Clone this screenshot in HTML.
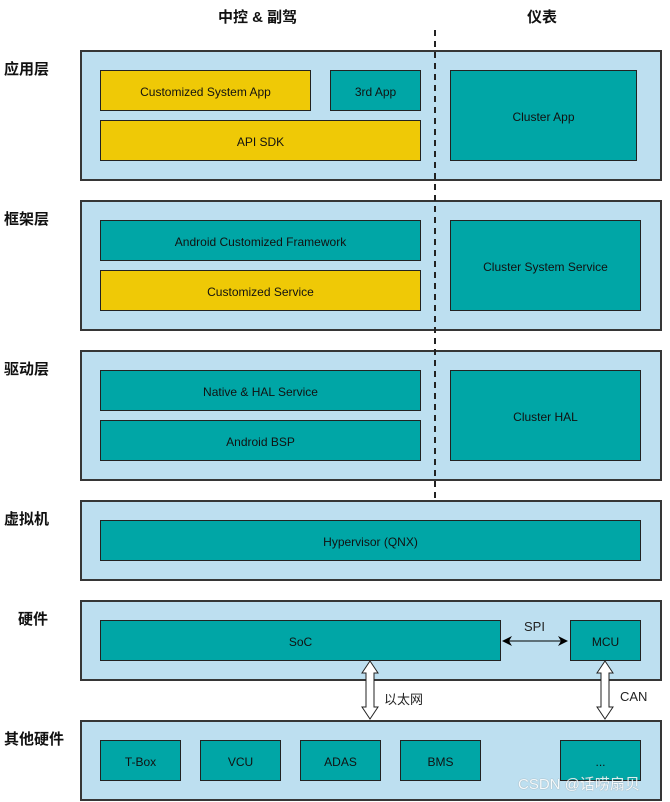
<!DOCTYPE html>
<html><head><meta charset="utf-8"><style>
body{margin:0;width:670px;height:802px;background:#fff;position:relative;overflow:hidden;font-family:"Liberation Sans","Noto Sans CJK SC",sans-serif}
.l{position:absolute;box-sizing:border-box;background:#bddff0;border:2px solid #363636;left:80px;width:582px}
.b{position:absolute;box-sizing:border-box;border:1px solid #222;background:#00a6a6;color:#111;font-size:12px;display:flex;align-items:center;justify-content:center;padding-top:2px}
.y{background:#efc906}
.t{position:absolute;font-weight:bold;font-size:15px;color:#111}
.s{position:absolute;font-size:13px;color:#222}
</style></head><body>
<div class="t" style="left:218px;top:6px">中控 &amp; 副驾</div>
<div class="t" style="left:527px;top:6px">仪表</div>
<div class="t" style="left:4px;top:58px">应用层</div>
<div class="t" style="left:4px;top:208px">框架层</div>
<div class="t" style="left:4px;top:358px">驱动层</div>
<div class="t" style="left:4px;top:508px">虚拟机</div>
<div class="t" style="left:18px;top:608px">硬件</div>
<div class="t" style="left:4px;top:728px">其他硬件</div>

<div class="l" style="top:50px;height:131px"></div>
<div class="l" style="top:200px;height:131px"></div>
<div class="l" style="top:350px;height:131px"></div>
<div class="l" style="top:500px;height:81px"></div>
<div class="l" style="top:600px;height:81px"></div>
<div class="l" style="top:720px;height:81px"></div>

<div class="b y" style="left:100px;top:70px;width:211px;height:41px">Customized System App</div>
<div class="b" style="left:330px;top:70px;width:91px;height:41px">3rd App</div>
<div class="b y" style="left:100px;top:120px;width:321px;height:41px">API SDK</div>
<div class="b" style="left:450px;top:70px;width:187px;height:91px">Cluster App</div>

<div class="b" style="left:100px;top:220px;width:321px;height:41px">Android Customized Framework</div>
<div class="b y" style="left:100px;top:270px;width:321px;height:41px">Customized Service</div>
<div class="b" style="left:450px;top:220px;width:191px;height:91px">Cluster System Service</div>

<div class="b" style="left:100px;top:370px;width:321px;height:41px">Native &amp; HAL Service</div>
<div class="b" style="left:100px;top:420px;width:321px;height:41px">Android BSP</div>
<div class="b" style="left:450px;top:370px;width:191px;height:91px">Cluster HAL</div>

<div class="b" style="left:100px;top:520px;width:541px;height:41px">Hypervisor (QNX)</div>
<div class="b" style="left:100px;top:620px;width:401px;height:41px">SoC</div>
<div class="b" style="left:570px;top:620px;width:71px;height:41px">MCU</div>

<div class="b" style="left:100px;top:740px;width:81px;height:41px">T-Box</div>
<div class="b" style="left:200px;top:740px;width:81px;height:41px">VCU</div>
<div class="b" style="left:300px;top:740px;width:81px;height:41px">ADAS</div>
<div class="b" style="left:400px;top:740px;width:81px;height:41px">BMS</div>
<div class="b" style="left:560px;top:740px;width:81px;height:41px">...</div>

<svg style="position:absolute;left:0;top:0" width="670" height="802">
<line x1="435" y1="30" x2="435" y2="500" stroke="#222" stroke-width="2" stroke-dasharray="6,5"/>
<line x1="503" y1="641" x2="567" y2="641" stroke="#000" stroke-width="1"/>
<path d="M502 641 L512 636 L509 641 L512 646Z M568 641 L558 636 L561 641 L558 646Z" fill="#000"/>
<path d="M370 661 L378 673 L374 673 L374 707 L378 707 L370 719 L362 707 L366 707 L366 673 L362 673Z" fill="#fff" stroke="#222"/>
<path d="M605 661 L613 673 L609 673 L609 707 L613 707 L605 719 L597 707 L601 707 L601 673 L597 673Z" fill="#fff" stroke="#222"/>
</svg>
<div class="s" style="left:524px;top:619px">SPI</div>
<div class="s" style="left:384px;top:689px">以太网</div>
<div class="s" style="left:620px;top:689px">CAN</div>
<div style="position:absolute;left:518px;top:773px;font-size:15px;color:#fff;opacity:.85;text-shadow:0 0 1px #777">CSDN @话唠扇贝</div>
</body></html>
